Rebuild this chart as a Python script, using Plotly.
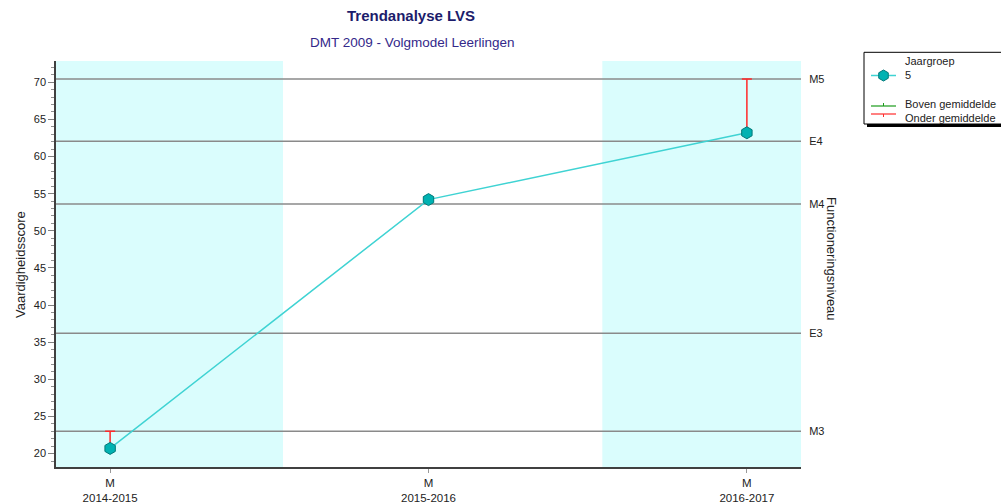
import plotly.graph_objects as go
import math

# ---- data ----
years = ["2014-2015", "2015-2016", "2016-2017"]
moments = ["M", "M", "M"]
scores = [20.7, 54.2, 63.2]
onder_top = [23.0, None, 70.45]      # norm level reached by the red "onder gemiddelde" bar
level_values = [23.0, 36.2, 53.6, 62.05, 70.45]
level_labels = ["M3", "E3", "M4", "E4", "M5"]
band_ranges = [(-0.17, 0.543), (1.546, 2.17)]
y_range = [18.2, 72.86]
x_range = [-0.17, 2.17]

W, H = 1001, 504
PL, PR, PT, PB = 56, 801, 61, 467

def px(x):
    return (x - PL) / (PR - PL)

def py(y):
    return (PB - y) / (PB - PT)

FONT = "Liberation Sans, Arial, sans-serif"
xpos = list(range(len(years)))

fig = go.Figure()

# error bars (onder gemiddelde)
ex, ey, eplus = [], [], []
for i, (s, t) in enumerate(zip(scores, onder_top)):
    if t is not None:
        ex.append(i)
        ey.append(s)
        eplus.append(t - s)
fig.add_trace(go.Scatter(
    x=ex, y=ey, mode="markers",
    marker=dict(size=1, opacity=0),
    error_y=dict(type="data", array=eplus, arrayminus=[0] * len(eplus),
                 symmetric=False, color="#ff2a2a", thickness=1.5, width=5),
    showlegend=False, hoverinfo="skip"))

fig.add_trace(go.Scatter(
    x=xpos, y=scores, mode="lines+markers",
    line=dict(color="#3fd3d3", width=1.5),
    marker=dict(symbol="hexagon", size=12, color="#00b2b2",
                line=dict(color="#007878", width=1)),
    showlegend=False))

shapes = []
for x0, x1 in band_ranges:
    shapes.append(dict(type="rect", xref="x", yref="paper", x0=x0, x1=x1, y0=0, y1=1,
                       fillcolor="#dafdfd", line=dict(width=0), layer="below"))
for v in level_values:
    shapes.append(dict(type="line", xref="paper", yref="y", x0=0, x1=1, y0=v, y1=v,
                       line=dict(color="#8a8a8a", width=1.5), layer="below"))

# custom legend box
shapes.append(dict(type="rect", xref="paper", yref="paper",
                   x0=px(867), x1=px(1012), y0=py(127), y1=py(55.3),
                   fillcolor="black", line=dict(width=0)))
shapes.append(dict(type="rect", xref="paper", yref="paper",
                   x0=px(864), x1=px(1009), y0=py(124), y1=py(52.3),
                   fillcolor="white", line=dict(color="black", width=1)))
shapes.append(dict(type="line", xref="paper", yref="paper",
                   x0=px(871), x1=px(896), y0=py(75.5), y1=py(75.5),
                   line=dict(color="#3fd3d3", width=1.5)))
hx, hy, r = 883.5, 75.5, 5.5
pts = [(hx + r * math.sin(math.radians(a)), hy - r * math.cos(math.radians(a)))
       for a in range(0, 360, 60)]
path = "M " + " L ".join(f"{px(a)},{py(b)}" for a, b in pts) + " Z"
shapes.append(dict(type="path", xref="paper", yref="paper", path=path,
                   fillcolor="#00b2b2", line=dict(color="#007878", width=1)))
# green line
shapes.append(dict(type="line", xref="paper", yref="paper",
                   x0=px(871), x1=px(896), y0=py(106), y1=py(106),
                   line=dict(color="#1a9a1a", width=1.2)))
shapes.append(dict(type="line", xref="paper", yref="paper",
                   x0=px(883.5), x1=px(883.5), y0=py(106), y1=py(103),
                   line=dict(color="#1a9a1a", width=1)))
# red line
shapes.append(dict(type="line", xref="paper", yref="paper",
                   x0=px(871), x1=px(896), y0=py(114), y1=py(114),
                   line=dict(color="#ff2a2a", width=1.2)))
shapes.append(dict(type="line", xref="paper", yref="paper",
                   x0=px(883.5), x1=px(883.5), y0=py(114), y1=py(117),
                   line=dict(color="#ff2a2a", width=1)))

ann = []
def text(x, y, s, size, color="#222222", xanchor="left", angle=0, bold=False):
    ann.append(dict(xref="paper", yref="paper", x=px(x), y=py(y),
                    text=f"<b>{s}</b>" if bold else s, showarrow=False,
                    xanchor=xanchor, yanchor="middle", textangle=angle,
                    font=dict(family=FONT, size=size, color=color)))

text(411, 15, "Trendanalyse LVS", 15, color="#1c1c6b", xanchor="center", bold=True)
text(412, 43, "DMT 2009 - Volgmodel Leerlingen", 13.5, color="#33288a", xanchor="center")
text(20, 265, "Vaardigheidsscore", 13, xanchor="center", angle=-90)
text(832, 259, "Functioneringsniveau", 13, xanchor="center", angle=90)
text(903, 61, "Jaargroep", 11)
text(903, 75, "5", 11)
text(903, 104, "Boven gemiddelde", 11)
text(903, 118, "Onder gemiddelde", 11)

fig.update_layout(
    width=W, height=H,
    margin=dict(l=PL, r=W - PR, t=PT, b=H - PB, autoexpand=False),
    paper_bgcolor="white", plot_bgcolor="white",
    showlegend=False,
    shapes=shapes, annotations=ann,
    font=dict(family=FONT, color="#222222"),
    xaxis=dict(range=x_range, tickvals=xpos,
               ticktext=[f"{m}<br>{y}" for m, y in zip(moments, years)],
               ticks="outside", ticklen=4, tickcolor="#999999",
               showline=True, linecolor="#404040", linewidth=1.5,
               showgrid=False, zeroline=False,
               tickfont=dict(size=11.5, color="#222222")),
    yaxis=dict(range=y_range, dtick=5, tick0=0,
               ticks="outside", ticklen=6, tickcolor="#808080",
               minor=dict(dtick=1, ticks="outside", ticklen=3, tickcolor="#909090"),
               showline=True, linecolor="#404040", linewidth=1.5,
               showgrid=False, zeroline=False,
               tickfont=dict(size=11, color="#222222")),
    yaxis2=dict(range=y_range, overlaying="y", side="right",
                tickvals=level_values, ticktext=level_labels,
                ticks="outside", ticklen=5, tickcolor="rgba(0,0,0,0)",
                showline=False, showgrid=False, zeroline=False,
                tickfont=dict(size=11, color="#222222")),
)
# invisible trace to activate yaxis2
fig.add_trace(go.Scatter(x=[None], y=[None], yaxis="y2", showlegend=False))

fig.write_html("out.html", config={"displayModeBar": False},
               post_script="document.body.style.margin='0px';document.body.style.overflow='hidden';")
